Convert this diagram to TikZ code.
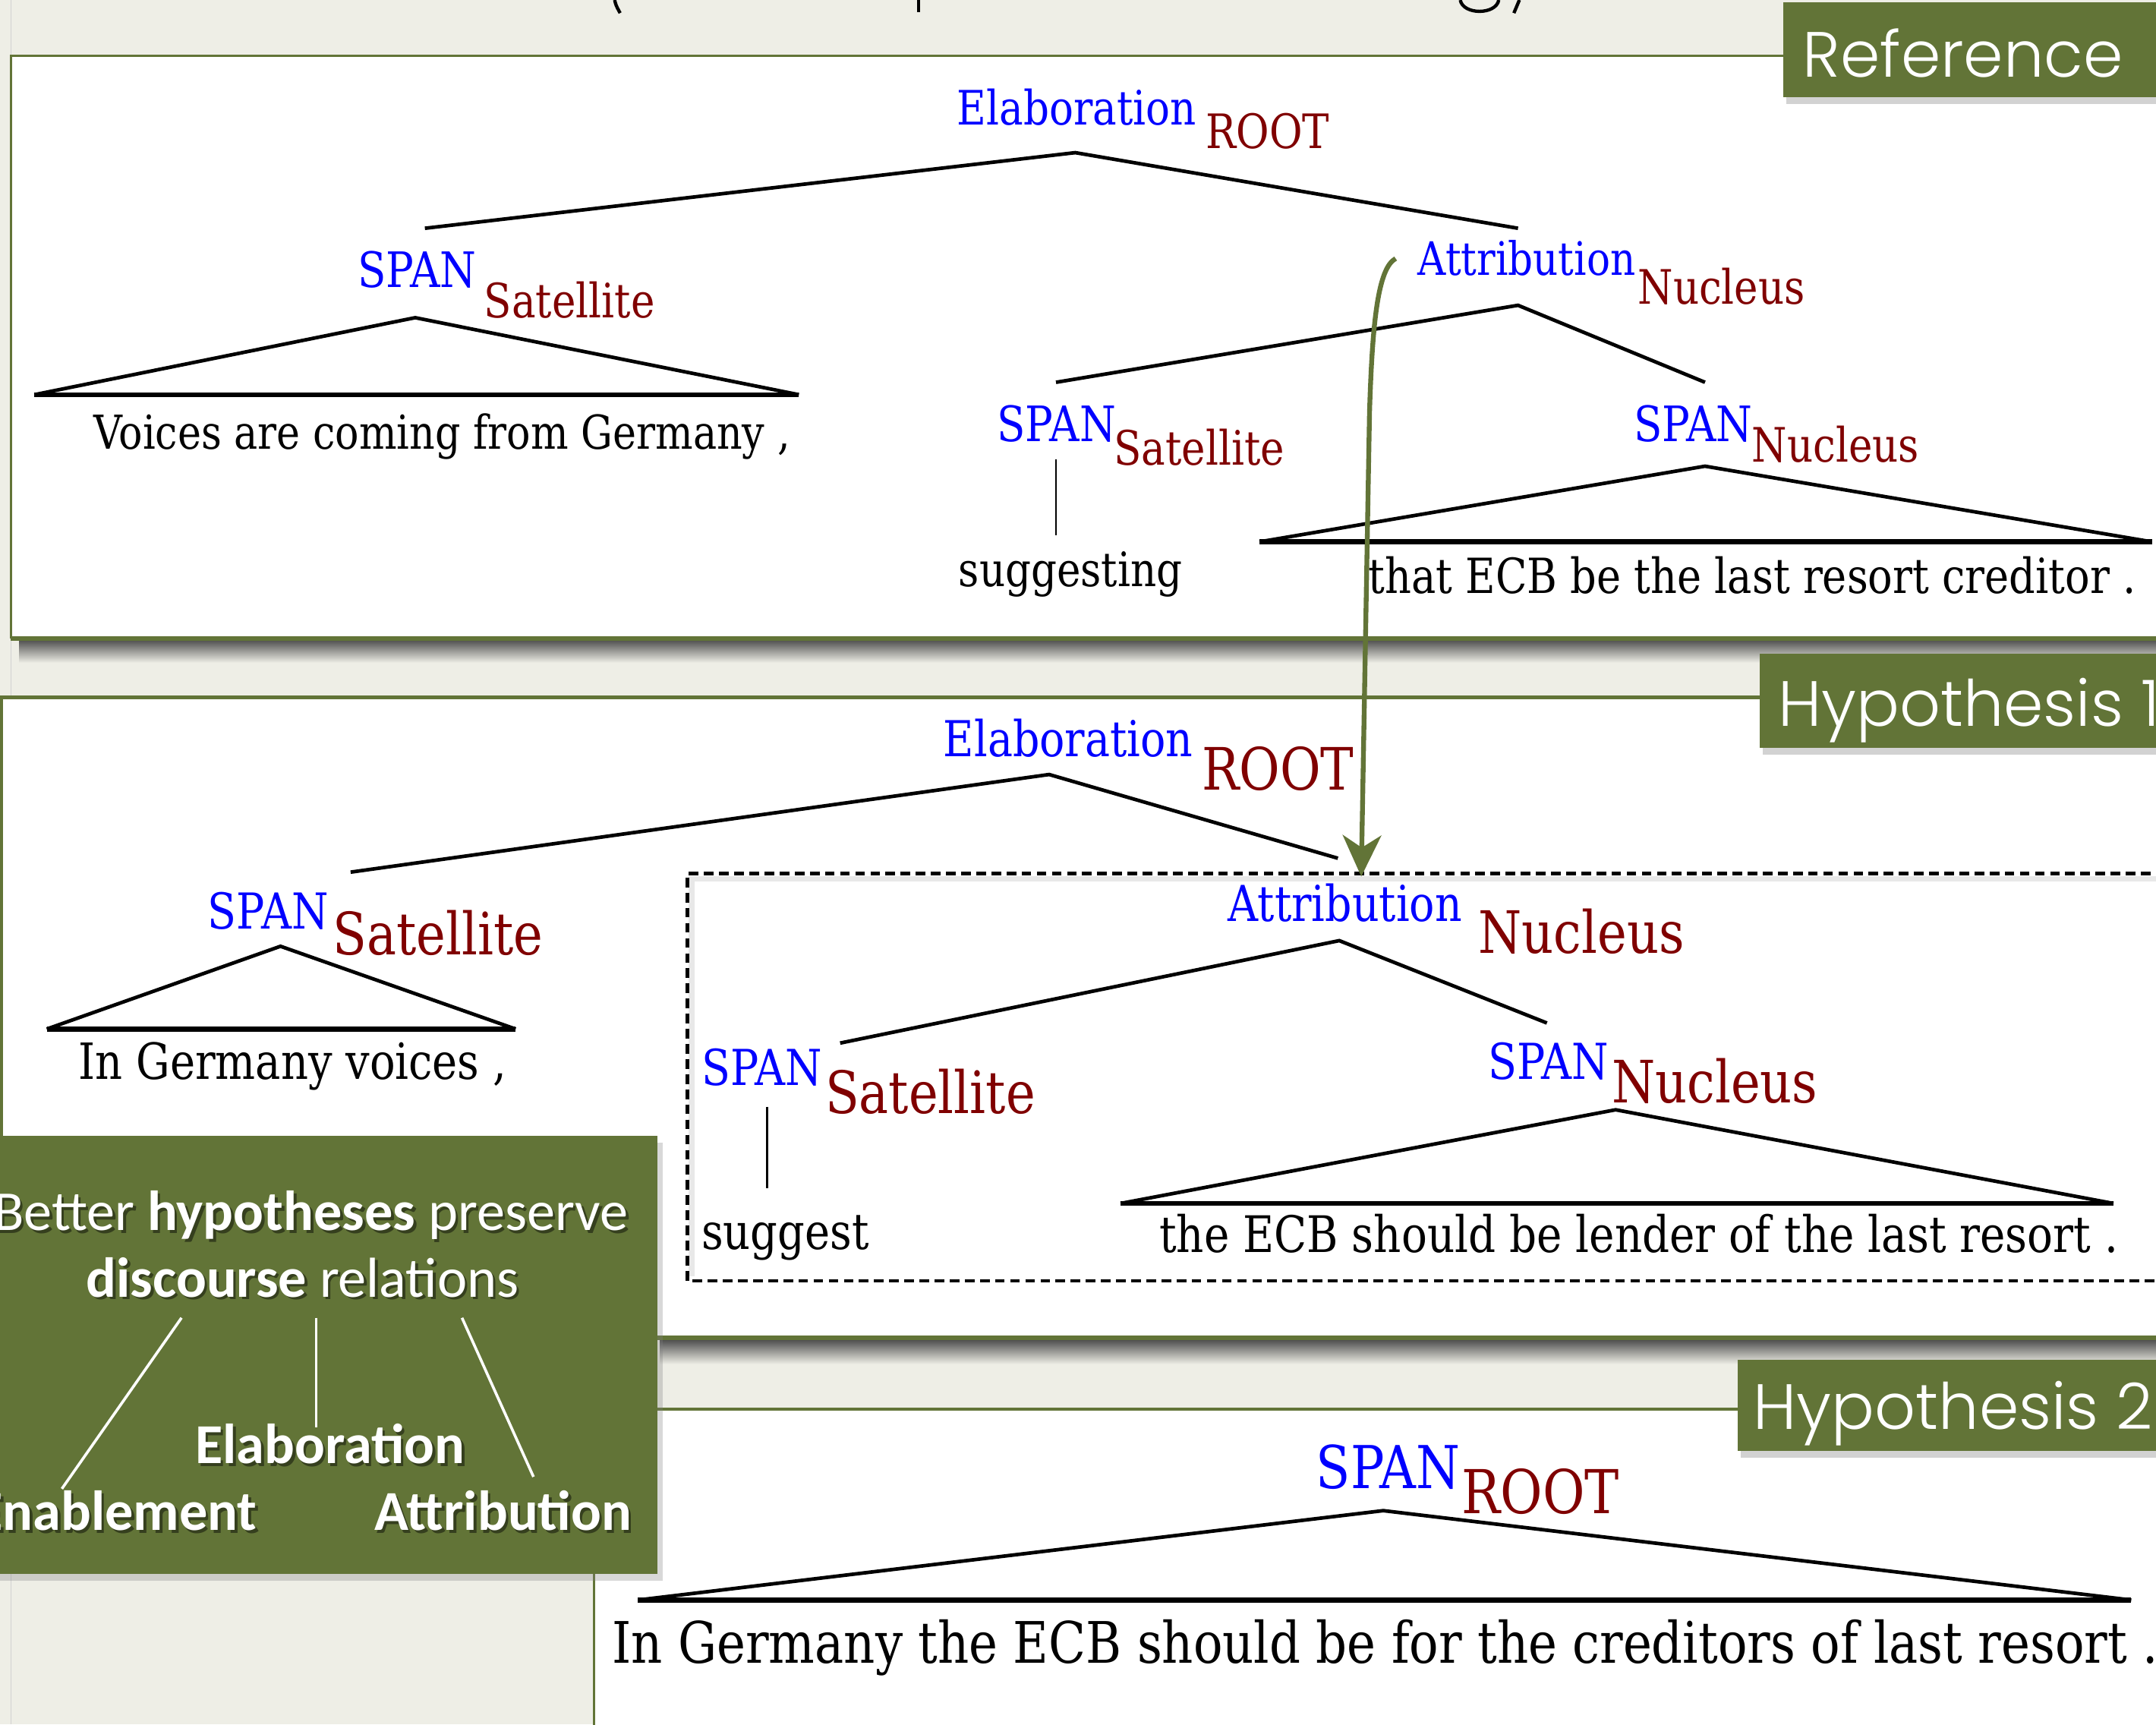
\documentclass[tikz,border=0pt]{standalone}
\usepackage{fontspec}
\usetikzlibrary{arrows.meta,shadows}
\newfontfamily\treefont{DejaVu Serif}[FakeStretch=0.85]
\newfontfamily\boxfont{Carlito}
\newfontfamily\headfont{Poppins Light}
\newcommand\setpx[1]{\fontsize{#1pt}{#1pt}\selectfont}
\definecolor{slidegreen}{RGB}{98,116,55}
\definecolor{slidebg}{RGB}{238,238,230}
\definecolor{relblue}{RGB}{0,0,255}
\definecolor{rolered}{RGB}{128,0,0}
\tikzset{
  rel/.style={anchor=base west, inner sep=0pt, text=relblue, font={\treefont\setpx{#1}}},
  role/.style={anchor=base west, inner sep=0pt, text=rolered, font={\treefont\setpx{#1}}},
  word/.style={anchor=base west, inner sep=0pt, text=black, font={\treefont\setpx{#1}}},
  branch/.style={line width=2.6pt, line join=miter},
  spanbase/.style={line width=3.6pt},
  leafline/.style={line width=1.6pt},
  tag/.style={fill=slidegreen, drop shadow={shadow xshift=2pt, shadow yshift=-5pt, opacity=0.35}},
  tagtext/.style={anchor=base west, inner sep=0pt, text=white, font={\headfont\setpx{46.5}}},
  notetext/.style={anchor=base, inner sep=0pt, text=white, font={\boxfont\setpx{41}}},
  noteshadow/.style={anchor=base, inner sep=0pt, text=black, opacity=0.45, font={\boxfont\setpx{41}}},
  noteline/.style={white, line width=2pt},
}
\begin{document}
\begin{tikzpicture}[x=1pt, y=-1pt]
\useasboundingbox (0,0) rectangle (1568,1254);
\clip (0,0) rectangle (1568,1254);

% slide background
\fill[slidebg] (0,0) rectangle (1568,1254);
\draw[black!18, line width=1pt] (8,0) -- (8,1254);

% descenders of the title line above
\draw[line width=2.4pt] (447,0) .. controls (448,4) .. (451,9.5);
\draw[line width=2.4pt] (668,0) -- (668,9);
\draw[line width=2.4pt] (1062,0) .. controls (1064,11) and (1088,11) .. (1090,0);
\draw[line width=2.4pt] (1105,0) -- (1101,9.5);

% ---------------- Reference panel ----------------
\shade[top color=black!70, bottom color=slidebg] (14,465) rectangle (1568,482);
\fill[white] (8,40.6) rectangle (1575,464.3);
\draw[slidegreen, line width=2pt] (8,464.3) -- (8,40.6) -- (1575,40.6);
\draw[slidegreen, line width=3.5pt] (8,464.3) -- (1575,464.3);

\node[rel=34.5] (r-elab) at (696,91) {Elaboration};
\node[role=34.5] (r-root) at (877,108) {ROOT};
\coordinate (r-top) at (782,111);
\coordinate (r-left) at (309,166);
\coordinate (r-right) at (1104,166);
\draw[branch] (r-left) -- (r-top) -- (r-right);

\node[rel=35.5] (r-span1) at (260,209) {SPAN};
\node[role=34.5] (r-sat1) at (352,231) {Satellite};
\coordinate (r-t1) at (302,231);
\coordinate (r-t1l) at (25,287);
\coordinate (r-t1r) at (581,287);
\draw[branch] (r-t1l) -- (r-t1) -- (r-t1r);
\draw[spanbase] (r-t1l) -- (r-t1r);
\node[word=34] (r-w1) at (68,326.5) {Voices are coming from Germany ,};

\node[rel=33.5] (r-attr) at (1031,200) {Attribution};
\node[role=34.5] (r-nuc) at (1191,221) {Nucleus};
\coordinate (r-a) at (1104,222);
\coordinate (r-al) at (768,278);
\coordinate (r-ar) at (1240,278);
\draw[branch] (r-al) -- (r-a) -- (r-ar);

\node[rel=35.5] (r-span2) at (725,321) {SPAN};
\node[role=34.5] (r-sat2) at (810,338) {Satellite};
\coordinate (r-l2a) at (768,334);
\coordinate (r-l2b) at (768,389);
\draw[leafline] (r-l2a) -- (r-l2b);
\node[word=34.5] (r-w2) at (697,426.3) {suggesting};

\node[rel=35.5] (r-span3) at (1188,321) {SPAN};
\node[role=34.5] (r-nuc3) at (1274,336) {Nucleus};
\coordinate (r-t3) at (1240,339);
\coordinate (r-t3l) at (916,394);
\coordinate (r-t3r) at (1565,394);
\draw[branch] (r-t3l) -- (r-t3) -- (r-t3r);
\draw[spanbase] (r-t3l) -- (r-t3r);
\node[word=35.2] (r-w3) at (995,431.7) {that ECB be the last resort creditor .};

% ---------------- Hypothesis 1 panel ----------------
\shade[top color=black!70, bottom color=slidebg] (480,974) rectangle (1568,992);
\fill[white] (0,507) rectangle (1575,972.7);
\draw[slidegreen, line width=2.5pt] (0.8,972.7) -- (0.8,507) -- (1575,507);
\draw[slidegreen, line width=3.5pt] (0,972.7) -- (1575,972.7);

\node[rel=36] (h-elab) at (686,550.2) {Elaboration};
\node[role=42.5] (h-root) at (874,574.6) {ROOT};
\coordinate (h-top) at (763,563.2);
\coordinate (h-left) at (255,634.2);
\coordinate (h-right) at (973,624.1);
\draw[branch] (h-left) -- (h-top) -- (h-right);

\node[rel=36] (h-span1) at (151,675.4) {SPAN};
\node[role=42.5] (h-sat1) at (242,694.4) {Satellite};
\coordinate (h-t1) at (204,688.1);
\coordinate (h-t1l) at (34,748.3);
\coordinate (h-t1r) at (375,748.3);
\draw[branch] (h-t1l) -- (h-t1) -- (h-t1r);
\draw[spanbase] (h-t1l) -- (h-t1r);
\node[word=36.3] (h-w1) at (57,784.8) {In Germany voices ,};

% dashed frame round the attribution subtree
\draw[black!9, line width=4pt] (503,928) -- (503,639) -- (1575,639);
\draw[line width=2.5pt, dash pattern=on 7pt off 4pt] (1575,635.2) -- (500,635.2) -- (500,931.5) -- (1575,931.5);
\coordinate (h-frame) at (990,637.4);

\node[rel=36] (h-attr) at (893,669.7) {Attribution};
\node[role=42.5] (h-nuc) at (1075,692.9) {Nucleus};
\coordinate (h-a) at (974,684);
\coordinate (h-al) at (611,758.5);
\coordinate (h-ar) at (1125,743.9);
\draw[branch] (h-al) -- (h-a) -- (h-ar);

\node[rel=36] (h-span2) at (510,789.5) {SPAN};
\node[role=42.5] (h-sat2) at (600,809.5) {Satellite};
\coordinate (h-l2a) at (558,804.7);
\coordinate (h-l2b) at (558,864);
\draw[leafline] (h-l2a) -- (h-l2b);
\node[word=36.3] (h-w2) at (510,908.4) {suggest};

\node[rel=36] (h-span3) at (1082,784.8) {SPAN};
\node[role=42.5] (h-nuc3) at (1172,802.2) {Nucleus};
\coordinate (h-t3) at (1175,807);
\coordinate (h-t3l) at (815,875.1);
\coordinate (h-t3r) at (1537,875.1);
\draw[branch] (h-t3l) -- (h-t3) -- (h-t3r);
\draw[spanbase] (h-t3l) -- (h-t3r);
\node[word=36.6] (h-w3) at (843,910.6) {the ECB should be lender of the last resort .};

% ---------------- Hypothesis 2 panel ----------------
\fill[white] (432,1024.8) rectangle (1575,1260);
\draw[slidegreen, line width=2pt] (432,1260) -- (432,1024.8) -- (1575,1024.8);

\node[rel=43] (g-span) at (957,1082.6) {SPAN};
\node[role=44] (g-root) at (1063,1100.8) {ROOT};
\coordinate (g-t) at (1006,1098.5);
\coordinate (g-tl) at (464,1163.5);
\coordinate (g-tr) at (1550,1163.5);
\draw[branch] (g-tl) -- (g-t) -- (g-tr);
\draw[spanbase] (g-tl) -- (g-tr);
\node[word=41.6] (g-w) at (445,1209.2) {In Germany the ECB should be for the creditors of last resort .};

% ---------------- panel tags ----------------
\fill[tag] (1297,1.5) rectangle (1580,70.4);
\node[tagtext] (tag-ref) at (1311,55.8) {Reference};
\fill[tag] (1280,475.1) rectangle (1580,543.9);
\node[tagtext] (tag-h1) at (1293,528) {Hypothesis 1};
\fill[tag] (1264,988.6) rectangle (1580,1055.1);
\node[tagtext] (tag-h2) at (1275,1039.2) {Hypothesis 2};

% ---------------- note box ----------------
\fill[slidegreen, drop shadow={shadow xshift=4pt, shadow yshift=-5pt, opacity=0.3}] (-10,826) rectangle (478,1144.7);
\node[noteshadow] (n1s) at (228,896.7) {Better \textbf{hypotheses} preserve};
\node[notetext] (n1) at (226,894.7) {Better \textbf{hypotheses} preserve};
\node[noteshadow] (n2s) at (222,945) {\textbf{discourse} relations};
\node[notetext] (n2) at (220,943) {\textbf{discourse} relations};
\coordinate (n-fork1) at (132,958.3);
\coordinate (n-fork2) at (230,958.3);
\coordinate (n-fork3) at (336,958.3);
\coordinate (n-end1) at (45,1082.6);
\coordinate (n-end2) at (230,1037.8);
\coordinate (n-end3) at (388,1073.9);
\draw[noteline] (n-fork1) -- (n-end1);
\draw[noteline] (n-fork2) -- (n-end2);
\draw[noteline] (n-fork3) -- (n-end3);
\node[noteshadow] (n-elabs) at (242,1066.4) {\textbf{Elaboration}};
\node[notetext] (n-elab) at (240,1064.4) {\textbf{Elaboration}};
\node[noteshadow, anchor=base east] (n-enabs) at (189,1115) {\textbf{Enablement}};
\node[notetext, anchor=base east] (n-enab) at (187,1113) {\textbf{Enablement}};
\node[noteshadow, anchor=base west] (n-attrs) at (274,1115) {\textbf{Attribution}};
\node[notetext, anchor=base west] (n-attr) at (272,1113) {\textbf{Attribution}};

% ---------------- moved attribution subtree ----------------
\coordinate (r-attr-hook) at (1015,188);
\draw[slidegreen, line width=3.5pt, -{Stealth[length=30pt, width=28pt, inset=9pt]}]
  (r-attr-hook) .. controls (1002,195) and (998,235) .. (996,300) -- (h-frame);
\end{tikzpicture}
\end{document}
